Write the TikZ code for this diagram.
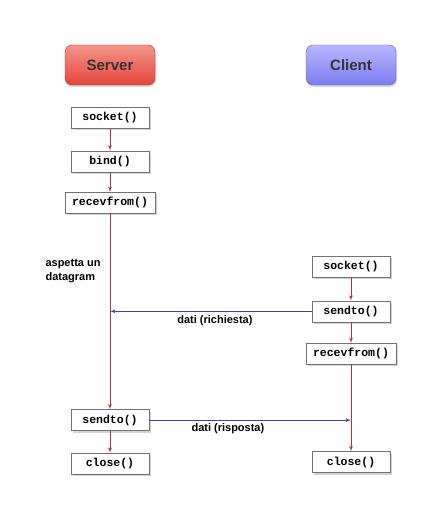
\documentclass[tikz,border=0pt]{standalone}
\usepackage{fontspec}
\setmainfont{Liberation Sans}
\setmonofont{Liberation Mono}
\usetikzlibrary{arrows, positioning, shadows}

\definecolor{srvred}{HTML}{E5453A}
\definecolor{srvtop}{HTML}{F4948C}
\definecolor{srvline}{HTML}{B8322A}
\definecolor{cltblue}{HTML}{7C7CF0}
\definecolor{clttop}{HTML}{B8B8FF}
\definecolor{cltline}{HTML}{5A5AC8}
\definecolor{flowred}{HTML}{A33A3A}
\definecolor{msgblue}{HTML}{3A46A8}

\tikzset{
	header/.style={draw, rounded corners=7pt, minimum width=90pt, minimum height=40pt,
		font=\fontsize{15}{18}\selectfont\bfseries, text=black!80,
		drop shadow={opacity=0.3, shadow xshift=1pt, shadow yshift=-2pt}},
	call/.style={draw=black!55, fill=white, minimum width=78pt, minimum height=21pt, inner sep=2pt,
		font=\fontsize{11.5}{13}\selectfont\ttfamily\bfseries,
		drop shadow={opacity=0.35, shadow xshift=2pt, shadow yshift=-2pt}},
	flow/.style={draw=flowred, -latex', line width=0.8pt},
	msg/.style={draw=msgblue, -latex', line width=0.8pt},
	note/.style={font=\fontsize{11}{14}\selectfont\bfseries, align=left}
}

\begin{document}
\begin{tikzpicture}[x=1pt, y=-1pt, node distance=22pt]

\useasboundingbox (0,0) rectangle (446,527);

\node [header, top color=srvtop, bottom color=srvred, draw=srvline] (server) at (110,65) {Server};
\node [header, top color=clttop, bottom color=cltblue, draw=cltline] (client) at (351,65) {Client};

% server side
\node [call, below=of server] (s1) {socket()};
\node [call, below=22pt of s1] (s2) {bind()};
\node [call, minimum width=90pt, below=20pt of s2] (s3) {recevfrom()};
\node [call, below=196pt of s3] (s4) {sendto()};
\node [call, below=22pt of s4] (s5) {close()};

\node [note, anchor=north west] (wait) at (42,256) {aspetta un\\datagram};

% client side
\node [call, below=171pt of client] (c1) {socket()};
\node [call, below=23pt of c1] (c2) {sendto()};
\node [call, minimum width=90pt, below=21pt of c2] (c3) {recevfrom()};
\node [call, below=87pt of c3] (c4) {close()};

\draw [flow] (s1) -- (s2);
\draw [flow] (s2) -- (s3);
\draw [flow] (s3) -- (s4);
\draw [flow] (s4) -- (s5);

\draw [flow] (c1) -- (c2);
\draw [flow] (c2) -- (c3);
\draw [flow] (c3) -- (c4);

\draw [msg] (c2.west) -- node [note, below, pos=0.48] (req) {dati (richiesta)} (c2.west -| s3.south);
\draw [msg] (s4.east) -- node [note, below, pos=0.39] (resp) {dati (risposta)} (s4.east -| c3.south);

\end{tikzpicture}
\end{document}
